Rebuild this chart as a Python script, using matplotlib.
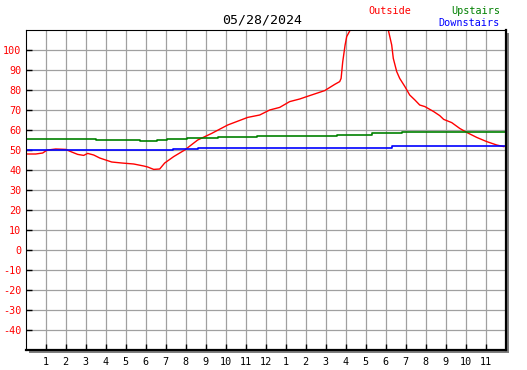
import matplotlib
matplotlib.use("Agg")
import matplotlib.pyplot as plt
from matplotlib.patches import Rectangle

# Outside temperature (hour of day, deg F)
out_hours = [0.0, 0.5, 0.85, 1.0, 1.1, 1.5, 2.0, 2.3, 2.6, 2.9, 3.1, 3.4, 3.7, 4.0,
             4.3, 4.8, 5.4, 5.9, 6.1, 6.4, 6.7, 6.95, 7.4, 7.95, 8.6, 9.3, 10.1,
             11.1, 11.7, 12.2, 12.7, 13.2, 13.7, 14.2, 14.95, 15.45, 15.7, 15.77,
             15.85, 15.97, 16.05, 16.2, 16.5, 17.2, 17.8, 18.13, 18.3, 18.38,
             18.55, 18.7, 18.96, 19.2, 19.46, 19.7, 19.96, 20.4, 20.7, 20.9,
             21.3, 21.7, 22.05, 22.55, 23.05, 23.55, 23.9]
outside = [48, 48, 48.5, 49.5, 50, 50.5, 50.3, 49, 47.8, 47.3, 48.3, 47.5, 46, 45,
           44, 43.5, 43, 42, 41.5, 40.3, 40.5, 43.5, 46.7, 50, 55, 58.3, 62.5,
           66.3, 67.5, 70, 71.3, 74.2, 75.5, 77.2, 79.7, 82.8, 84.2, 85.8,
           94, 102.5, 106.7, 109.5, 115, 118, 114, 110, 102.5, 95.8,
           89.2, 85.8, 81.7, 77.5, 75, 72.5, 71.7, 69.2, 67.2, 65.3,
           63.7, 60.8, 58.8, 56.3, 54.2, 52.5, 51.7]

# Upstairs (step changes)
up_hours = [0, 3.5, 5.7, 6.56, 7.07, 8.07, 9.6, 11.57, 15.56, 17.3, 18.8, 24]
upstairs = [55.5, 55, 54.4, 54.8, 55.5, 56, 56.5, 57, 57.5, 58.3, 58.8, 58.8]

# Downstairs (step changes)
down_hours = [0, 7.37, 8.6, 18.3, 24]
downstairs = [49.8, 50.3, 50.9, 51.8, 51.8]

x_labels = [str(h) for h in range(1, 12)] + ["12"] + [str(h) for h in range(1, 12)]
y_ticks = list(range(-40, 101, 10))

W, H = 527, 370
left, right, top, bottom = 25.7, 505.7, 30, 350
mono = "DejaVu Sans Mono"

fig = plt.figure(figsize=(W / 100, H / 100), dpi=100)
ax = fig.add_axes([left / W, 1 - bottom / H, (right - left) / W, (bottom - top) / H])

# drop shadow behind the plot box
shadow = Rectangle(((left + 3) / W, 1 - (bottom + 3) / H), (right - left) / W,
                   (bottom - top) / H, transform=fig.transFigure,
                   facecolor="#808080", edgecolor="none", zorder=-1)
fig.patches.append(shadow)

ax.plot(out_hours, outside, color="red", lw=1)
ax.step(up_hours, upstairs, where="post", color="green", lw=1.2)
ax.step(down_hours, downstairs, where="post", color="blue", lw=1.2)

ax.set_xlim(0, 24)
ax.set_ylim(-50, 110)
ax.set_xticks(range(1, 24))
ax.set_xticklabels(x_labels, fontsize=7.3, family=mono)
ax.set_yticks(y_ticks)
ax.set_yticklabels([str(v) for v in y_ticks], fontsize=7.3, family=mono, color="red")
ax.tick_params(direction="in", length=4, width=1, color="black")
ax.tick_params(axis="x", pad=5)
ax.tick_params(axis="y", pad=3)
ax.grid(True, color="#a0a0a0", lw=0.9)
ax.set_axisbelow(True)

for side in ["left", "top"]:
    ax.spines[side].set_linewidth(0.8)
for side in ["right", "bottom"]:
    ax.spines[side].set_linewidth(1.6)

fig.text(262 / W, 1 - 20 / H, "05/28/2024", ha="center", va="center",
         fontsize=9.5, family=mono)
fig.text(390 / W, 1 - 11 / H, "Outside", ha="center", va="center",
         fontsize=7.3, family=mono, color="red")
fig.text(500 / W, 1 - 11 / H, "Upstairs", ha="right", va="center",
         fontsize=7.3, family=mono, color="green")
fig.text(500 / W, 1 - 23 / H, "Downstairs", ha="right", va="center",
         fontsize=7.3, family=mono, color="blue")

fig.savefig("out.png", dpi=100)
